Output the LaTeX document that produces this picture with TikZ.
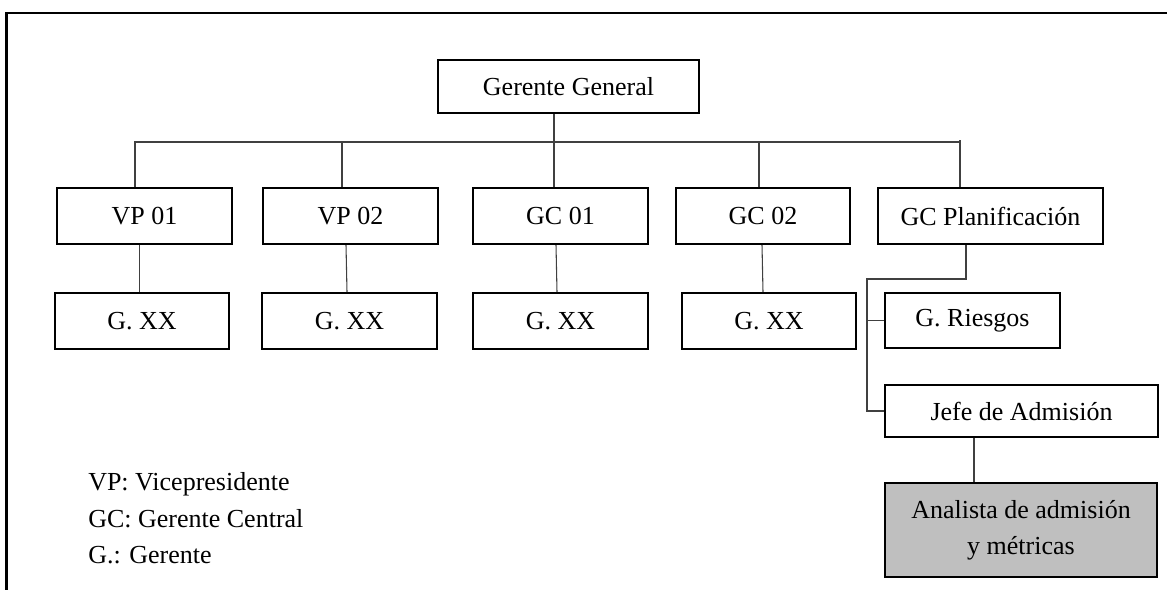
\documentclass[tikz,border=0pt]{standalone}
\usepackage{fontspec}
\setmainfont{Liberation Serif}
\usetikzlibrary{calc}
\begin{document}
\begin{tikzpicture}[x=0.75pt,y=-0.75pt,
  box/.style={draw=black,line width=1.5pt,fill=white,inner sep=0pt,
    font=\fontsize{19.5}{27}\selectfont,align=center},
  conn/.style={draw=black!75,line width=0.8pt},
  frame/.style={draw=black,line width=1.6pt}]
\useasboundingbox (0,0) rectangle (1167,590);
\draw[frame] (1167,13) -- (6.5,13) -- (6.5,590);

\node[box,minimum width=261*0.75pt,minimum height=53*0.75pt] (GG) at (568.5,86.5) {Gerente General};

\node[box,minimum width=175*0.75pt,minimum height=56*0.75pt] (VP1) at (144.5,216) {VP 01};
\node[box,minimum width=175*0.75pt,minimum height=56*0.75pt] (VP2) at (350.5,216) {VP 02};
\node[box,minimum width=175*0.75pt,minimum height=56*0.75pt] (GC1) at (560.5,216) {GC 01};
\node[box,minimum width=174*0.75pt,minimum height=56*0.75pt] (GC2) at (763,216) {GC 02};
\node[box,minimum width=225*0.75pt,minimum height=56*0.75pt] (GCP) at (990.5,216) {GC Planificación};

\node[box,minimum width=174*0.75pt,minimum height=56*0.75pt] (GX1) at (142,321) {G. XX};
\node[box,minimum width=175*0.75pt,minimum height=56*0.75pt] (GX2) at (349.5,321) {G. XX};
\node[box,minimum width=175*0.75pt,minimum height=56*0.75pt] (GX3) at (560.5,321) {G. XX};
\node[box,minimum width=174*0.75pt,minimum height=56*0.75pt] (GX4) at (769,321) {G. XX};

\node[box,minimum width=175*0.75pt,minimum height=55*0.75pt] (GR) at (972.5,320.5) {G. Riesgos};
\node[box,minimum width=273*0.75pt,minimum height=52*0.75pt] (JA) at (1021.5,411) {Jefe de Admisión};
\node[box,fill=gray!50,minimum width=272*0.75pt,minimum height=94*0.75pt] (AN) at (1021,530) {Analista de admisión\\y métricas};

% bus
\coordinate (busL) at (134,142);
\coordinate (busR) at (960,142);
\draw[conn] (busL) -- (busR);
\draw[conn] ($(GG.south)+(-14.5,0)$) -- ($(GG.south)+(-14.5,29)$);
\draw[conn] ($(VP1.north)+(-9.5,0)$) -- ($(VP1.north)+(-9.5,-46)$);
\draw[conn] ($(VP2.north)+(-8.5,0)$) -- ($(VP2.north)+(-8.5,-46)$);
\draw[conn] ($(GC1.north)+(-6.5,0)$) -- ($(GC1.north)+(-6.5,-46)$);
\draw[conn] ($(GC2.north)+(-4,0)$) -- ($(GC2.north)+(-4,-46)$);
\draw[conn] ($(GCP.north)+(-30.5,0)$) -- ($(GCP.north)+(-30.5,-47)$);

% row 1 to row 2
\draw[conn] ($(VP1.south)+(-5,0)$) -- ($(GX1.north)+(-2.5,0)$);
\draw[conn] ($(VP2.south)+(-4.5,0)$) -- ($(GX2.north)+(-2.5,0)$);
\draw[conn] ($(GC1.south)+(-4.5,0)$) -- ($(GX3.north)+(-3.5,0)$);
\draw[conn] ($(GC2.south)+(-1,0)$) -- ($(GX4.north)+(-6,0)$);

% planning branch
\coordinate (trunk) at (867,279);
\draw[conn] ($(GCP.south)+(-24.5,0)$) |- (trunk) |- (JA.west);
\draw[conn] (trunk |- GR.west) -- (GR.west);
\draw[conn] ($(JA.south)+(-47.5,0)$) -- ($(AN.north)+(-47,0)$);

% legend
\node[anchor=west,align=left,inner sep=0pt,font=\fontsize{19.5}{27.4}\selectfont] (LEG) at (88,518.5)
  {VP: Vicepresidente\\GC: Gerente Central\\G.: Gerente};
\end{tikzpicture}
\end{document}
